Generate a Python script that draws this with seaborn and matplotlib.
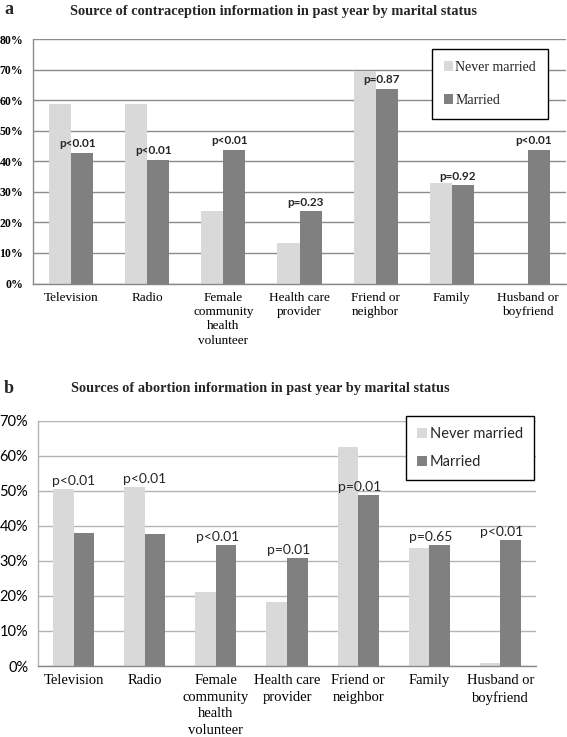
import matplotlib
matplotlib.use("Agg")
import matplotlib.pyplot as plt
import seaborn as sns
import pandas as pd
import numpy as np
from matplotlib.patches import Patch
from matplotlib.ticker import FixedLocator

sns.set_theme(style="white")
plt.rcParams['font.family'] = ['Liberation Serif', 'DejaVu Serif']

categories_a = ["Television", "Radio", "Female\ncommunity\nhealth\nvolunteer",
                "Health care\nprovider", "Friend or\nneighbor", "Family", "Husband or\nboyfriend"]
categories_b = ["Television", "Radio", "Female\ncommunity\nhealth\nvolunteer",
                "Health care\nprovider", "Friend or\nneighbor", "Family", "Husband or\nboyfriend"]
series = ["Never married", "Married"]

never_a = [58.7, 58.7, 23.8, 13.4, 69.6, 33.0, 0.0]
married_a = [42.8, 40.5, 43.8, 23.6, 63.8, 32.2, 43.8]
pvals_a = ["p<0.01", "p<0.01", "p<0.01", "p=0.23", "p=0.87", "p=0.92", "p<0.01"]
yticks_a = [0, 10, 20, 30, 40, 50, 60, 70, 80]

never_b = [50.4, 51.0, 21.0, 18.3, 62.6, 33.6, 0.8]
married_b = [37.9, 37.6, 34.4, 30.7, 48.8, 34.4, 36.0]
pvals_b = ["p<0.01", "p<0.01", "p<0.01", "p=0.01", "p=0.01", "p=0.65", "p<0.01"]
anchor_b = ["Never married", "Never married", "Married", "Married", "Married", "Married", "Married"]
yticks_b = [0, 10, 20, 30, 40, 50, 60, 70]

title_a = "Source of contraception information in past year by marital status"
title_b = "Sources of abortion information in past year by marital status"

LIGHT = "#d9d9d9"
DARK = "#808080"
palette = {"Never married": LIGHT, "Married": DARK}

W, H = 567, 737
fig = plt.figure(figsize=(W / 100, H / 100), dpi=100)


def px_axes(l, t, r, b):
    return fig.add_axes([l / W, 1 - b / H, (r - l) / W, (b - t) / H])


def make_df(cats, nev, mar):
    return pd.DataFrame({
        "cat": list(range(len(cats))) * 2,
        "value": list(nev) + list(mar),
        "status": [series[0]] * len(cats) + [series[1]] * len(cats),
    })


def draw(ax, cats, nev, mar, yticks, gridc, spinec, xsize, ls, yfont, ysize, yweight):
    df = make_df(cats, nev, mar)
    sns.barplot(data=df, x="cat", y="value", hue="status", hue_order=series,
                palette=palette, width=0.58, gap=0, ax=ax, legend=False,
                saturation=1, linewidth=0, order=list(range(len(cats))))
    ax.set_xlim(-0.5, len(cats) - 0.5)
    ax.set_ylim(0, yticks[-1])
    ax.set_yticks(yticks, labels=[f"{t}%" for t in yticks],
                  fontfamily=yfont, fontsize=ysize, fontweight=yweight, color="black")
    ax.set_axisbelow(True)
    ax.yaxis.grid(True, color=gridc, linewidth=1.0)
    ax.xaxis.grid(False)
    for s in ["top", "right"]:
        ax.spines[s].set_visible(False)
    ax.spines["left"].set_color(spinec)
    ax.spines["bottom"].set_color("#888888")
    ax.spines["left"].set_linewidth(1.0)
    ax.spines["bottom"].set_linewidth(1.0)
    ax.set_xlabel("")
    ax.set_ylabel("")
    ax.set_xticks(range(len(cats)))
    ax.set_xticklabels(cats, fontfamily="Liberation Serif", fontsize=xsize, linespacing=ls, color="black")
    ax.tick_params(axis="x", length=0, pad=6)
    ax.xaxis.set_minor_locator(FixedLocator(np.arange(-0.5, len(cats), 1.0)))
    ax.tick_params(axis="x", which="minor", length=4, color="#888888", direction="out")
    ax.tick_params(axis="y", length=4, color=spinec, direction="out", pad=3)


# ---------- panel a ----------
ax_a = px_axes(33, 39, 566, 283.5)
draw(ax_a, categories_a, never_a, married_a, yticks_a, "#8c8c8c", "#8c8c8c",
     9.5, 1.25, "Liberation Serif", 8.5, "bold")
for i, p in enumerate(pvals_a):
    ax_a.annotate(p, (i + 0.08, married_a[i]), xytext=(0, 2.5), textcoords="offset points",
                  ha="center", va="bottom", fontsize=8.5, fontweight="bold",
                  fontfamily=["Lato", "DejaVu Sans"])
handles = [Patch(facecolor=palette[s], edgecolor="none", label=s) for s in series]
leg_a = ax_a.legend(handles=handles, loc="upper right", bbox_to_anchor=((548 - 33) / 533, (283.5 - 49) / 244.5),
                    frameon=True, fancybox=False, edgecolor="black", framealpha=1,
                    prop={"family": "Liberation Serif", "size": 10},
                    handlelength=0.7, handleheight=0.7, handletextpad=0.15,
                    labelspacing=1.45, borderpad=0.85, borderaxespad=0)
leg_a.get_frame().set_linewidth(1.0)

fig.text(4 / W, 1 - 9 / H, "a", fontsize=13, fontweight="bold", fontfamily="Liberation Serif",
         va="center", ha="left")
fig.text(274 / W, 1 - 12 / H, title_a, fontsize=10.4, fontweight="bold", fontfamily="Liberation Serif",
         va="center", ha="center")

# ---------- panel b ----------
ax_b = px_axes(38, 420.7, 536, 666)
draw(ax_b, categories_b, never_b, married_b, yticks_b, "#b4b4b4", "#b4b4b4",
     10.5, 1.35, "Lato", 10.5, "normal")
for i, p in enumerate(pvals_b):
    yv = never_b[i] if anchor_b[i] == "Never married" else married_b[i]
    xv = i if anchor_b[i] == "Never married" else i + 0.02
    ax_b.annotate(p, (xv, yv), xytext=(0, 1.5), textcoords="offset points",
                  ha="center", va="bottom", fontsize=10,
                  fontfamily=["Lato", "DejaVu Sans"])
leg_b = ax_b.legend(handles=handles, loc="upper right", bbox_to_anchor=((534 - 38) / 498, (666 - 416) / 245.3),
                    frameon=True, fancybox=False, edgecolor="black", framealpha=1,
                    prop={"family": "Lato", "size": 10.5},
                    handlelength=0.7, handleheight=0.7, handletextpad=0.2,
                    labelspacing=0.95, borderpad=0.75, borderaxespad=0)
leg_b.get_frame().set_linewidth(1.0)

fig.text(4 / W, 1 - 388 / H, "b", fontsize=13, fontweight="bold", fontfamily="Liberation Serif",
         va="center", ha="left")
fig.text(260.5 / W, 1 - 388 / H, title_b, fontsize=10.3, fontweight="bold", fontfamily="Liberation Serif",
         va="center", ha="center")

fig.savefig("out.png", dpi=100, facecolor="white")
